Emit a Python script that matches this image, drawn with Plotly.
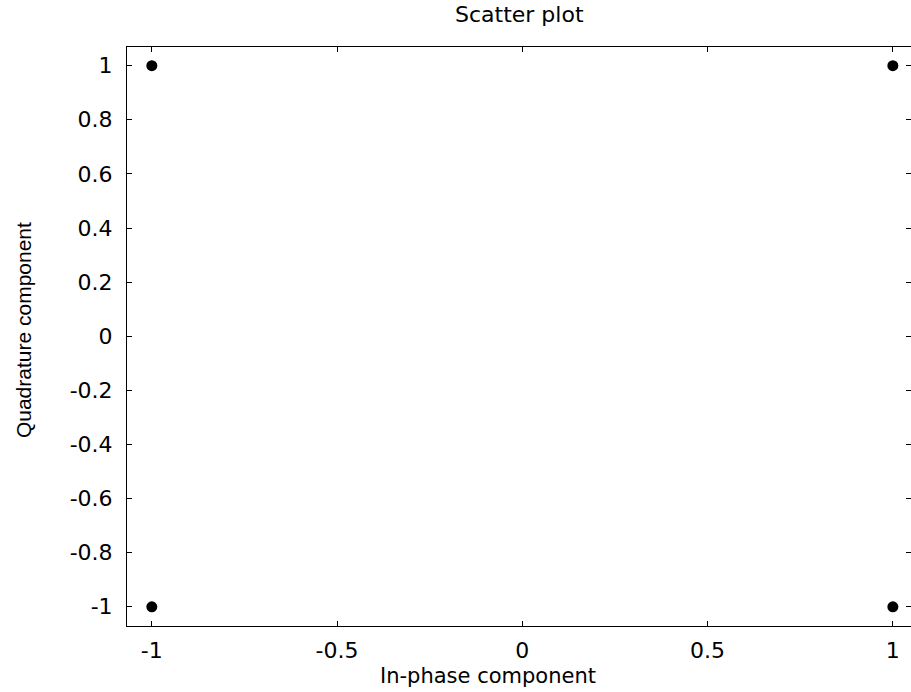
import plotly.graph_objects as go

# QPSK constellation: in-phase and quadrature values of each symbol
in_phase = [-1, 1, -1, 1]
quadrature = [1, 1, -1, -1]

x_ticks = [-1, -0.5, 0, 0.5, 1]
x_labels = ["-1", "-0.5", "0", "0.5", "1"]
y_ticks = [-1, -0.8, -0.6, -0.4, -0.2, 0, 0.2, 0.4, 0.6, 0.8, 1]
y_labels = ["-1", "-0.8", "-0.6", "-0.4", "-0.2", "0", "0.2", "0.4", "0.6", "0.8", "1"]

font_wide = "DejaVu Sans, Verdana, sans-serif"
font_main = "Liberation Sans, Arial, Helvetica, sans-serif"

fig = go.Figure(
    go.Scatter(
        x=in_phase,
        y=quadrature,
        mode="markers",
        marker=dict(color="black", size=11, symbol="circle"),
        showlegend=False,
    )
)

axis_common = dict(
    showgrid=False,
    zeroline=False,
    showline=True,
    linecolor="black",
    linewidth=1,
    mirror="ticks",
    ticks="inside",
    ticklen=5,
    tickcolor="black",
    tickfont=dict(family=font_wide, size=22, color="black"),
)

fig.update_xaxes(range=[-1.067, 1.049], tickvals=x_ticks, ticktext=x_labels,
                 ticklabelstandoff=5, **axis_common)
fig.update_yaxes(range=[-1.071, 1.069], tickvals=y_ticks, ticktext=y_labels,
                 ticklabelstandoff=9, **axis_common)

fig.update_layout(
    width=911,
    height=692,
    margin=dict(l=127, r=0, t=47, b=66),
    paper_bgcolor="white",
    plot_bgcolor="white",
    annotations=[
        dict(text="Scatter plot", xref="paper", yref="paper", x=0.5, y=1.0553,
             xanchor="center", yanchor="middle", showarrow=False,
             font=dict(family=font_wide, size=22, color="black")),
        dict(text="In-phase component", xref="paper", yref="paper", x=0.4605, y=-0.0864,
             xanchor="center", yanchor="middle", showarrow=False,
             font=dict(family=font_wide, size=21, color="black")),
        dict(text="Quadrature component", xref="paper", yref="paper", x=-0.1327, y=0.511,
             xanchor="center", yanchor="middle", showarrow=False, textangle=-90,
             font=dict(family=font_main, size=21, color="black")),
    ],
)

fig.write_html("out.html")
